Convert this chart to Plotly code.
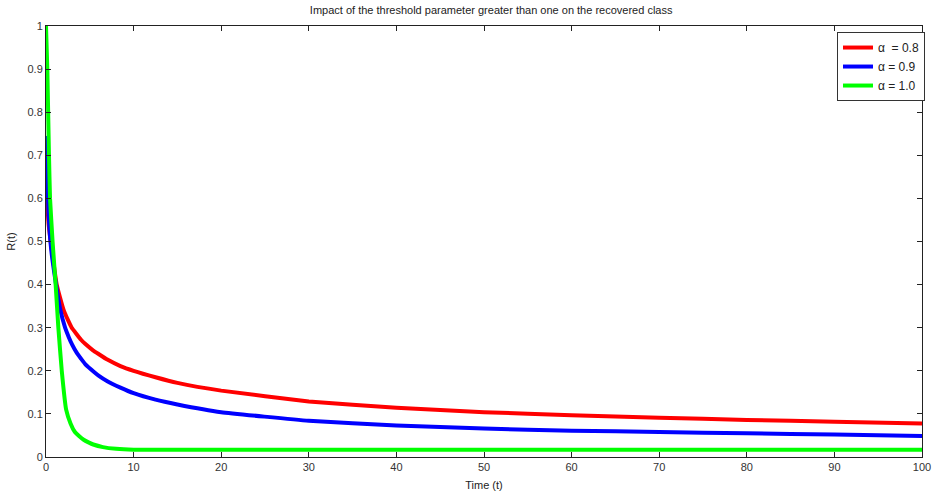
import plotly.graph_objects as go

t_red = [0, 0.3, 0.6, 1.22, 1.6, 2, 2.5, 2.94, 3.5, 4, 4.5, 5.4, 6, 7, 8.5, 10, 12.5, 15, 20, 30, 40,
         50, 60, 70, 80, 90, 100]
r_alpha08 = [0.635, 0.54, 0.49, 0.4, 0.37, 0.342, 0.318, 0.3, 0.285, 0.272, 0.262, 0.247, 0.239,
             0.226, 0.211, 0.2, 0.185, 0.172, 0.154, 0.129, 0.114, 0.104, 0.097, 0.091, 0.086,
             0.082, 0.078]

t_blue = [0, 0.3, 0.6, 1.15, 1.6, 2.18, 2.6, 3, 3.5, 4, 4.5, 5.45, 6, 7, 8.5, 10, 12.5, 15, 20, 30,
          40, 50, 60, 70, 80, 90, 100]
r_alpha09 = [0.745, 0.56, 0.48, 0.4, 0.345, 0.3, 0.278, 0.26, 0.242, 0.228, 0.215, 0.198, 0.189,
             0.176, 0.161, 0.148, 0.133, 0.122, 0.104, 0.084, 0.073, 0.066, 0.061, 0.058, 0.055,
             0.052, 0.049]

t_green = [0, 0.15, 0.34, 0.46, 0.75, 1.1, 1.41, 1.8, 2.3, 2.8, 3.3, 3.8, 4.3, 4.85, 5.4, 6.5, 8,
           10, 20, 40, 60, 80, 100]
r_alpha10 = [1.0, 0.9, 0.7, 0.6, 0.5, 0.4, 0.3, 0.2, 0.11, 0.078, 0.058, 0.048, 0.04, 0.034, 0.029,
             0.023, 0.019, 0.017, 0.017, 0.017, 0.017, 0.017, 0.017]

labels = ["\u03b1  = 0.8", "\u03b1 = 0.9", "\u03b1 = 1.0"]
colors = ["#ff0000", "#0000ff", "#00ff00"]

x_ticks = list(range(0, 101, 10))
y_ticks = [round(i * 0.1, 1) for i in range(11)]
y_ticktext = ["0", "0.1", "0.2", "0.3", "0.4", "0.5", "0.6", "0.7", "0.8", "0.9", "1"]

FONT = "Liberation Sans, Arial"

fig = go.Figure()
for xs, ys, lab, col in [(t_red, r_alpha08, labels[0], colors[0]),
                         (t_blue, r_alpha09, labels[1], colors[1]),
                         (t_green, r_alpha10, labels[2], colors[2])]:
    fig.add_trace(go.Scatter(x=xs, y=ys, mode="lines", name=lab,
                             line=dict(color=col, width=4, shape="spline", smoothing=0.35)))

axis_common = dict(showgrid=False, zeroline=False, showline=True, linecolor="#222222", linewidth=1,
                   mirror="ticks", ticks="inside", ticklen=5, tickcolor="#222222", automargin=False,
                   tickfont=dict(family=FONT, size=11, color="#333333"))

fig.update_layout(
    width=932, height=493,
    margin=dict(l=46, r=7, t=26, b=36),
    paper_bgcolor="white", plot_bgcolor="white",
    title=dict(text="Impact of the threshold parameter greater than one on the recovered class",
               x=0.527, xanchor="center", y=0.98, yanchor="middle",
               font=dict(family=FONT, size=11, color="#222222")),
    xaxis=dict(range=[0, 100], tickvals=x_ticks,
               title=dict(text="Time (t)", standoff=9, font=dict(family=FONT, size=11, color="#222222")),
               **axis_common),
    yaxis=dict(range=[0, 1], tickvals=y_ticks, ticktext=y_ticktext,
               title=dict(text="R(t)", standoff=9, font=dict(family=FONT, size=11, color="#222222")),
               **axis_common),
    legend=dict(x=1.0034, xanchor="right", y=0.986, yanchor="top",
                bgcolor="white", bordercolor="#333333", borderwidth=1,
                font=dict(family=FONT, size=12, color="#222222"),
                tracegroupgap=0, itemwidth=30),
    showlegend=True,
)

fig.write_html("out.html", post_script="document.body.style.margin='0';",
               config={"displayModeBar": False})
